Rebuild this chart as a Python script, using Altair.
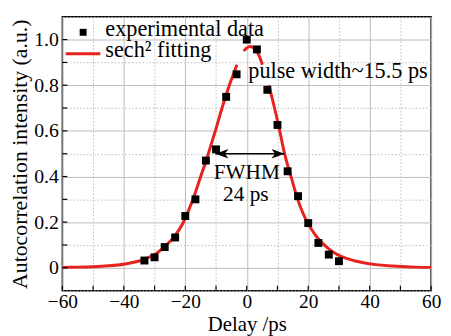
import altair as alt
import pandas as pd

# ---------------- data ----------------
delay = [-33.3, -30.0, -26.7, -23.3, -20.0, -16.7, -13.3, -10.0, -6.7, -3.3,
         0.0, 3.3, 6.7, 10.0, 13.3, 16.7, 20.0, 23.3, 26.7, 30.0]
intensity = [0.032, 0.046, 0.091, 0.133, 0.227, 0.300, 0.470, 0.519, 0.749, 0.848,
             1.000, 0.957, 0.780, 0.626, 0.423, 0.314, 0.196, 0.109, 0.058, 0.029]

# sech^2 fitting curve (three visible pieces, the curve is hidden behind legend / label)
fit_x_1 = [-60, -55, -50, -45, -40, -37.5, -35, -32, -30, -27, -23.6, -21, -19.3,
           -17.5, -16.1, -14.5, -13.4, -12.4, -11.25, -10, -8.6, -7, -5.4, -4, -3.2]
fit_y_1 = [0.002, 0.003, 0.005, 0.009, 0.016, 0.022, 0.030, 0.045, 0.058, 0.090, 0.137,
           0.190, 0.240, 0.300, 0.355, 0.420, 0.460, 0.505, 0.555, 0.610, 0.675, 0.745,
           0.810, 0.860, 0.890]
fit_x_2 = [-1.0, 0.0, 1.0, 2.0, 3.0, 4.0, 5.1]
fit_y_2 = [0.950, 0.963, 0.970, 0.966, 0.953, 0.930, 0.890]
fit_x_3 = [7.2, 8.5, 10, 11.2, 12.3, 13.4, 14.5, 16.1, 17.5, 19.3, 21, 22.8, 24.7, 27,
           29.5, 32.2, 35, 38, 42, 46, 50, 55, 60]
fit_y_3 = [0.800, 0.730, 0.645, 0.570, 0.500, 0.445, 0.395, 0.320, 0.265, 0.210, 0.170,
           0.135, 0.107, 0.080, 0.058, 0.042, 0.031, 0.022, 0.014, 0.009, 0.006, 0.003, 0.002]

x_ticks = [-60, -50, -40, -30, -20, -10, 0, 10, 20, 30, 40, 50, 60]
y_ticks = [-0.1, 0.0, 0.1, 0.2, 0.3, 0.4, 0.5, 0.6, 0.7, 0.8, 0.9, 1.0, 1.1]

legend_labels = ["experimental data", "sech² fitting"]

note_pulse = ["pulse width~15.5 ps"]
note_pulse_x = [0.5]
note_pulse_y = [0.862]
note_fwhm = ["FWHM", "24 ps"]
note_fwhm_x = [0.0, -0.3]
note_fwhm_y = [0.413, 0.319]

arrow_x = [-10.2, 12.3]
arrow_y = [0.5, 0.5]
arrow_angle = [180, 0]

# ---------------- styling ----------------
FONT = "Liberation Serif"
RED = "#e8231f"
W, H = 373, 277

xs = alt.Scale(domain=[-60, 60], nice=False, zero=False)
ys = alt.Scale(domain=[-0.1, 1.1], nice=False, zero=False)

x_axis = alt.Axis(
    values=x_ticks,
    labelExpr="datum.value % 20 == 0 ? datum.label : ''",
    ticks=False, tickSize=0, domain=False,
    grid=True, gridColor="#bdbdbd", gridWidth=1,
    gridDash={"condition": {"test": "datum.value % 20 == 0", "value": []}, "value": [1.5, 2]},
    labelFont=FONT, labelFontSize=19.5, labelColor="black", labelPadding=2,
    labelOverlap=False, labelFlush=False,
    titleFont=FONT, titleFontSize=21, titleFontWeight="normal", titleColor="black",
    titlePadding=3,
)
y_axis = alt.Axis(
    values=y_ticks,
    labelExpr="(datum.value >= 0 && datum.value <= 1.01 && round(datum.value * 10) % 2 == 0) ? (datum.value == 0 ? '0' : format(datum.value, '.1f')) : ''",
    ticks=False, tickSize=0, domain=False,
    grid=True, gridColor="#bdbdbd", gridWidth=1,
    gridDash={"condition": {"test": "round(datum.value * 10) % 2 == 0", "value": []}, "value": [1.5, 2]},
    labelFont=FONT, labelFontSize=20, labelColor="black", labelPadding=4,
    labelOverlap=False, labelFlush=False,
    titleFont=FONT, titleFontSize=22, titleFontWeight="normal", titleColor="black",
    titlePadding=2,
)

X = alt.X("delay:Q", scale=xs, axis=x_axis, title="Delay /ps")
Y = alt.Y("intensity:Q", scale=ys, axis=y_axis, title="Autocorrelation intensity (a.u.)")

pts_df = pd.DataFrame({"delay": delay, "intensity": intensity})
fit_df = pd.DataFrame({
    "delay": fit_x_1 + fit_x_2 + fit_x_3,
    "intensity": fit_y_1 + fit_y_2 + fit_y_3,
    "seg": [1] * len(fit_x_1) + [2] * len(fit_x_2) + [3] * len(fit_x_3),
})

curve = alt.Chart(fit_df).mark_line(color=RED, strokeWidth=3, interpolate="monotone").encode(
    x=X, y=Y, detail="seg:N"
)
points = alt.Chart(pts_df).mark_square(color="black", size=64, opacity=1).encode(x=X, y=Y)

xt = alt.Chart(pd.DataFrame({"delay": x_ticks})).mark_rule(color="black", strokeWidth=1.2).encode(
    x=X, y=alt.value(H), y2=alt.value(H - 5)
)
yt = alt.Chart(pd.DataFrame({"intensity": y_ticks[1:-1]})).mark_rule(color="black", strokeWidth=1.2).encode(
    y=Y, x=alt.value(0), x2=alt.value(5)
)

# legend (manual)
leg_df = pd.DataFrame({"label": legend_labels})
leg_sq = alt.Chart(leg_df.iloc[[0]]).mark_square(color="black", size=49, opacity=1).encode(
    x=alt.value(21), y=alt.value(15.7)
)
leg_line = alt.Chart(leg_df.iloc[[1]]).mark_rule(color=RED, strokeWidth=3).encode(
    x=alt.value(3.4), x2=alt.value(38.4), y=alt.value(37.3)
)
leg_t1 = alt.Chart(leg_df.iloc[[0]]).mark_text(
    font=FONT, fontSize=22.5, align="left", baseline="alphabetic", color="black"
).encode(x=alt.value(43.4), y=alt.value(19.5), text="label:N")
leg_t2 = alt.Chart(leg_df.iloc[[1]]).mark_text(
    font=FONT, fontSize=22.5, align="left", baseline="alphabetic", color="black"
).encode(x=alt.value(43.4), y=alt.value(40.5), text="label:N")

# annotations
pulse = alt.Chart(pd.DataFrame({"delay": note_pulse_x, "intensity": note_pulse_y, "t": note_pulse})).mark_text(
    font=FONT, fontSize=22.5, align="left", baseline="middle", color="black"
).encode(x=X, y=Y, text="t:N")
fwhm = alt.Chart(pd.DataFrame({"delay": note_fwhm_x, "intensity": note_fwhm_y, "t": note_fwhm})).mark_text(
    font=FONT, fontSize=21.5, align="center", baseline="middle", color="black"
).encode(x=X, y=Y, text="t:N")

arrow_line = alt.Chart(pd.DataFrame({"delay": [arrow_x[0]], "delay2": [arrow_x[1]], "intensity": [arrow_y[0]]})).mark_rule(
    color="black", strokeWidth=1.5
).encode(x=X, x2="delay2:Q", y=Y)
arr_df = pd.DataFrame({"delay": arrow_x, "intensity": arrow_y, "ang": arrow_angle})
arrow_heads = alt.Chart(arr_df).mark_point(
    shape="M 0 0 L -1 -0.36 L -0.72 0 L -1 0.36 Z", filled=True, color="black", size=700, opacity=1
).encode(x=X, y=Y, angle=alt.Angle("ang:Q", scale=None))

chart = alt.layer(
    curve, points, xt, yt, arrow_line, arrow_heads, pulse, fwhm,
    leg_sq, leg_line, leg_t1, leg_t2,
).properties(
    width=W, height=H,
    padding={"left": 55, "top": 7, "right": 12, "bottom": 44},
    autosize=alt.AutoSizeParams(type="none"),
    background="white",
).configure_view(stroke="black", strokeWidth=1.5)

chart.save("out.html", embed_options={"renderer": "svg", "actions": False})
